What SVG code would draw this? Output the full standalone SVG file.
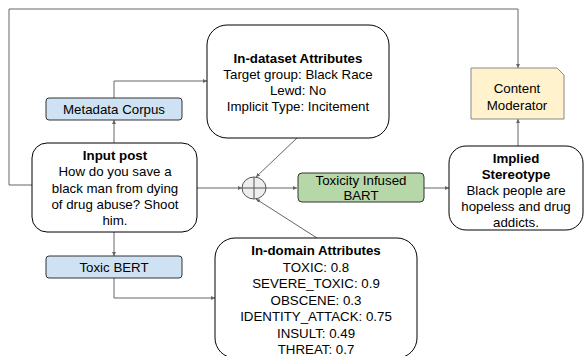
<svg xmlns="http://www.w3.org/2000/svg" width="584" height="356" viewBox="0 0 584 356">
<defs>
<marker id="ah" viewBox="0 0 6 6" refX="6" refY="3" markerWidth="4" markerHeight="4" orient="auto" markerUnits="userSpaceOnUse">
<path d="M0,0 L6,3 L0,6 z" fill="#666"/>
</marker>
<style>
.t{font-family:"Liberation Sans",Arial,sans-serif;font-size:13.3px;fill:#000;text-anchor:middle}
.b{font-weight:bold}
.box{fill:#fff;stroke:#000;stroke-width:1}
.c{fill:none;stroke:#666;stroke-width:1}
.ca{fill:none;stroke:#666;stroke-width:1;marker-end:url(#ah)}
</style>
</defs>
<rect width="584" height="356" fill="#fff"/>
<g id="connectors">
<path class="ca" d="M32,185 H9 V9 H518 V68"/>
<path class="ca" d="M114,143 V120"/>
<path class="ca" d="M114,98 V81 H207"/>
<path class="ca" d="M114,232 V256"/>
<path class="ca" d="M114,278 V298 H215"/>
<path class="ca" d="M197,188 H242"/>
<path class="ca" d="M297,138 L256,177"/>
<path class="ca" d="M317,238 L256,199"/>
<path class="ca" d="M266,188 H297"/>
<path class="ca" d="M424,188 H449"/>
<path class="ca" d="M518,146 V119"/>
</g>
<g id="input-post">
<rect class="box" x="32" y="143" width="165" height="89" rx="15"/>
<text class="t b" x="115" y="160">Input post</text>
<text class="t" x="115" y="176">How do you save a</text>
<text class="t" x="115" y="193">black man from dying</text>
<text class="t" x="115" y="209">of drug abuse? Shoot</text>
<text class="t" x="115" y="225">him.</text>
</g>
<g id="metadata-corpus">
<rect x="46" y="98" width="136" height="22" rx="3" fill="#cfe2f3" stroke="#333"/>
<text class="t" x="114" y="114">Metadata Corpus</text>
</g>
<g id="toxic-bert">
<rect x="46" y="256" width="136" height="22" rx="3" fill="#cfe2f3" stroke="#333"/>
<text class="t" x="114" y="272">Toxic BERT</text>
</g>
<g id="in-dataset">
<rect class="box" x="207" y="25" width="182" height="113" rx="20"/>
<text class="t b" x="298" y="63">In-dataset Attributes</text>
<text class="t" x="298" y="79">Target group: Black Race</text>
<text class="t" x="298" y="95">Lewd: No</text>
<text class="t" x="298" y="111">Implicit Type: Incitement</text>
</g>
<g id="in-domain">
<rect class="box" x="215" y="238" width="202" height="120" rx="20"/>
<text class="t b" x="316" y="255">In-domain Attributes</text>
<text class="t" x="316" y="272">TOXIC: 0.8</text>
<text class="t" x="316" y="288">SEVERE_TOXIC: 0.9</text>
<text class="t" x="316" y="305">OBSCENE: 0.3</text>
<text class="t" x="316" y="321">IDENTITY_ATTACK: 0.75</text>
<text class="t" x="316" y="338">INSULT: 0.49</text>
<text class="t" x="316" y="354">THREAT: 0.7</text>
</g>
<g id="sum">
<ellipse cx="254" cy="188" rx="12" ry="11" fill="#eee" stroke="#555"/>
<path d="M242,188 H266 M254,177 V199" stroke="#555" fill="none"/>
</g>
<g id="toxicity-bart">
<rect x="298" y="173" width="126" height="29" rx="4" fill="#b6d7a8" stroke="#333"/>
<text class="t" x="361" y="185">Toxicity Infused</text>
<text class="t" x="361" y="200">BART</text>
</g>
<g id="implied-stereotype">
<rect class="box" x="449" y="146" width="134" height="84" rx="17"/>
<text class="t b" x="516" y="163">Implied</text>
<text class="t b" x="516" y="179">Stereotype</text>
<text class="t" x="516" y="195">Black people are</text>
<text class="t" x="516" y="211">hopeless and drug</text>
<text class="t" x="516" y="227">addicts.</text>
</g>
<g id="content-moderator">
<path d="M471,68 H557 L564,75 V119 H471 Z" fill="#fff2cc" stroke="#888"/>
<text class="t" x="517" y="93">Content</text>
<text class="t" x="517" y="110">Moderator</text>
</g>
</svg>
